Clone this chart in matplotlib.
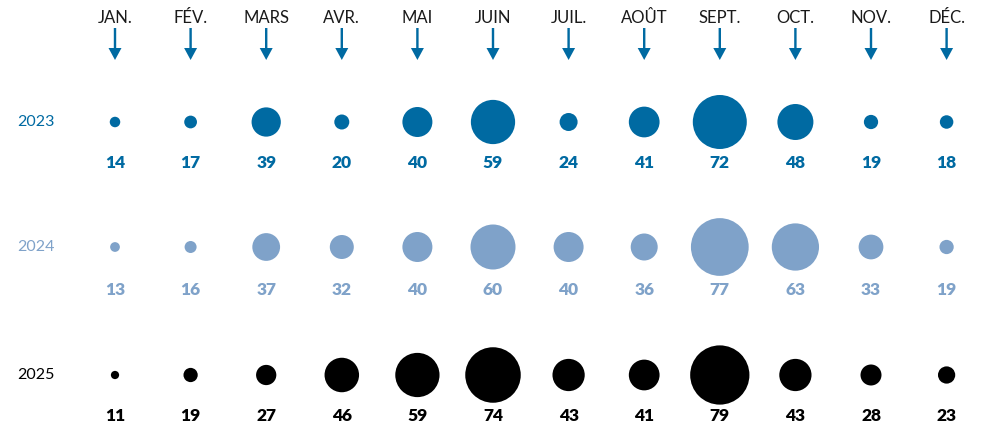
import matplotlib
matplotlib.use("Agg")
import matplotlib.pyplot as plt
import numpy as np

plt.rcParams['font.family'] = ['Lato', 'DejaVu Sans']

months = ["JAN.", "FÉV.", "MARS", "AVR.", "MAI", "JUIN", "JUIL.", "AOÛT", "SEPT.", "OCT.", "NOV.", "DÉC."]
years = ["2023", "2024", "2025"]
v2023 = [14, 17, 39, 20, 40, 59, 24, 41, 72, 48, 19, 18]
v2024 = [13, 16, 37, 32, 40, 60, 40, 36, 77, 63, 33, 19]
v2025 = [11, 19, 27, 46, 59, 74, 43, 41, 79, 43, 28, 23]
series = [v2023, v2024, v2025]
colors = ["#006aa2", "#7fa2c9", "#000000"]

W, H = 987, 426
fig = plt.figure(figsize=(W / 100, H / 100), dpi=100)
ax = fig.add_axes([0, 0, 1, 1])
ax.set_xlim(0, W)
ax.set_ylim(H, 0)
ax.axis('off')

x0, step = 115, 75.6
xs = x0 + step * np.arange(len(months))
row_y = [122, 247, 375]
lab_y = [163, 290, 416]

for i, m in enumerate(months):
    ax.text(xs[i], 18, m, ha='center', va='center', fontsize=12, color='#1a1a1a')
    ax.arrow(xs[i], 28, 0, 32, width=2.4, head_width=13, head_length=12,
             length_includes_head=True, color=colors[0], linewidth=0)

for r, vals in enumerate(series):
    vals = np.array(vals)
    # diameter ~0.75 px per unit
    d_pt = 0.75 * vals * 0.72
    ax.scatter(xs, np.full(len(xs), row_y[r]), s=d_pt ** 2, color=colors[r],
               edgecolors='none', zorder=3)
    for i, v in enumerate(vals):
        ax.text(xs[i], lab_y[r], str(v), ha='center', va='center', fontsize=12.5,
                fontweight='heavy', color=colors[r])
    ax.text(17, row_y[r], years[r], ha='left', va='center', fontsize=11.5,
            color=colors[r])

fig.savefig("out.png", dpi=100)
